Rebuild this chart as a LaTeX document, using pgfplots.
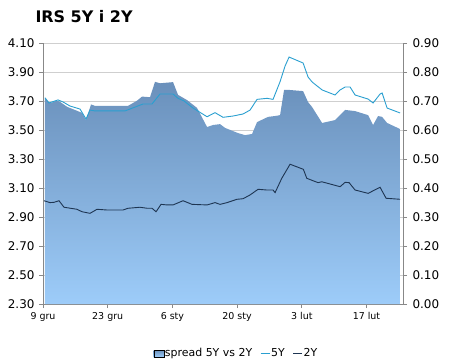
\documentclass[border=0pt]{standalone}
\usepackage{pgfplots}
\pgfplotsset{compat=1.18}
\usepackage{fontspec}
\setmainfont{DejaVu Sans}
\definecolor{gridc}{HTML}{CFCFCF}
\definecolor{axc}{HTML}{888888}
\definecolor{areatop}{HTML}{6A90BB}
\definecolor{areabot}{HTML}{9DCCF9}
\definecolor{fivey}{HTML}{2A9FD0}
\definecolor{twoy}{HTML}{1E3552}
\begin{document}
\begin{tikzpicture}
\path[use as bounding box] (-43bp,-59bp) rectangle (407bp,304bp);
\begin{axis}[
  at={(0,0)}, anchor=south west,
  scale only axis, width=360bp, height=260.7bp,
  xmin=0, xmax=77.9, ymin=0, ymax=0.9,
  axis x line*=bottom, axis y line*=right,
  axis line style={axc, line width=0.8bp},
  ytick={0,0.1,0.2,0.3,0.4,0.5,0.6,0.7,0.8,0.9},
  ymajorgrids, grid style={gridc, line width=0.7bp},
  xtick={0,14,28,42,56,70},
  xticklabels={9 gru,23 gru,6 sty,20 sty,3 lut,17 lut},
  tick align=outside, major tick length=4bp,
  tick style={axc, line width=0.8bp},
  /pgf/number format/assume math mode=true,
  yticklabel style={font=\fontsize{12}{14}\selectfont, xshift=2bp,
    /pgf/number format/fixed, /pgf/number format/fixed zerofill, /pgf/number format/precision=2},
  xticklabel style={font=\fontsize{9.5}{11}\selectfont, yshift=-1bp},
]
\addplot[draw=none, top color=areatop, bottom color=areabot] coordinates {
(0.43,0.710)(1.52,0.693)(3.03,0.702)(3.68,0.698)(5.19,0.681)(7.36,0.667)(8.44,0.660)(9.31,0.635)(10.39,0.689)(11.26,0.684)(18.40,0.684)(20.35,0.702)(21.43,0.716)(23.16,0.714)(24.24,0.767)(25.32,0.762)(28.14,0.766)(29.22,0.722)(31.17,0.704)(33.33,0.677)(35.50,0.611)(36.80,0.618)(38.31,0.621)(39.39,0.608)(42.21,0.590)(43.72,0.583)(45.24,0.587)(46.32,0.628)(48.70,0.646)(50.22,0.649)(51.30,0.652)(52.16,0.739)(53.25,0.739)(56.28,0.735)(57.36,0.697)(58.23,0.680)(60.39,0.625)(63.20,0.635)(65.37,0.670)(67.53,0.666)(70.35,0.652)(71.43,0.618)(72.51,0.649)(73.38,0.646)(74.46,0.625)(77.27,0.604)
} \closedcycle;
\end{axis}
\begin{axis}[
  at={(0,0)}, anchor=south west,
  scale only axis, width=360bp, height=260.7bp,
  xmin=0, xmax=77.9, ymin=2.3, ymax=4.1,
  axis y line*=left, axis x line=none,
  axis line style={axc, line width=0.8bp},
  ytick={2.3,2.5,2.7,2.9,3.1,3.3,3.5,3.7,3.9,4.1},
  tick align=outside, major tick length=4bp,
  tick style={axc, line width=0.8bp},
  /pgf/number format/assume math mode=true,
  yticklabel style={font=\fontsize{12}{14}\selectfont, xshift=-1bp,
    /pgf/number format/fixed, /pgf/number format/fixed zerofill, /pgf/number format/precision=2},
  legend style={at={(0.536,-0.19)}, anchor=center, draw=none, fill=none,
    font=\fontsize{11}{13}\selectfont, nodes={inner sep=1bp},
    /tikz/every even column/.append style={column sep=7bp}},
  legend columns=-1,
  legend image code/.code={\draw[#1] (0bp,0bp) -- (9bp,0bp);},
]
\addlegendimage{legend image code/.code={\shade[top color=areatop, bottom color=areabot] (0bp,-3.5bp) rectangle (10bp,3.5bp);}}
\addlegendentry{spread 5Y vs 2Y}
\addplot[fivey, line width=0.9bp] coordinates {
(0.43,3.724)(1.30,3.688)(3.25,3.709)(4.33,3.695)(5.84,3.667)(8.01,3.646)(9.31,3.577)(10.17,3.639)(11.26,3.633)(17.75,3.633)(21.65,3.681)(23.59,3.681)(25.32,3.750)(28.14,3.750)(29.22,3.720)(30.52,3.702)(32.47,3.653)(35.50,3.593)(37.23,3.621)(38.96,3.589)(41.13,3.598)(43.29,3.612)(44.81,3.639)(46.32,3.713)(48.48,3.720)(49.78,3.713)(51.30,3.835)(52.38,3.943)(53.25,4.005)(56.28,3.964)(57.36,3.867)(58.23,3.833)(60.39,3.778)(63.20,3.743)(64.29,3.778)(65.37,3.798)(66.45,3.798)(67.53,3.743)(70.35,3.715)(71.43,3.688)(72.94,3.750)(73.38,3.757)(74.46,3.653)(77.27,3.619)
};
\addlegendentry{5Y}
\addplot[twoy, line width=0.9bp] coordinates {
(0.22,3.013)(1.52,3.000)(2.38,3.002)(3.46,3.013)(4.55,2.968)(7.36,2.954)(8.44,2.937)(10.17,2.926)(11.69,2.954)(13.85,2.949)(17.32,2.949)(18.40,2.961)(21.00,2.968)(22.51,2.961)(23.59,2.961)(24.46,2.937)(25.54,2.988)(26.84,2.984)(28.14,2.984)(30.30,3.013)(32.25,2.988)(35.50,2.984)(37.23,3.000)(38.31,2.988)(39.83,3.000)(41.99,3.023)(43.29,3.027)(44.81,3.053)(46.54,3.092)(48.48,3.087)(49.78,3.087)(50.22,3.069)(51.67,3.168)(53.46,3.265)(56.34,3.230)(57.08,3.168)(58.44,3.151)(59.52,3.138)(60.32,3.144)(64.29,3.110)(65.37,3.140)(66.23,3.138)(67.53,3.087)(70.35,3.064)(72.94,3.106)(74.24,3.030)(77.27,3.023)
};
\addlegendentry{2Y}
\end{axis}
\node[anchor=base west, font=\fontsize{16}{19}\selectfont\bfseries] at (-11bp,281bp) {IRS 5Y i 2Y};
\end{tikzpicture}
\end{document}
